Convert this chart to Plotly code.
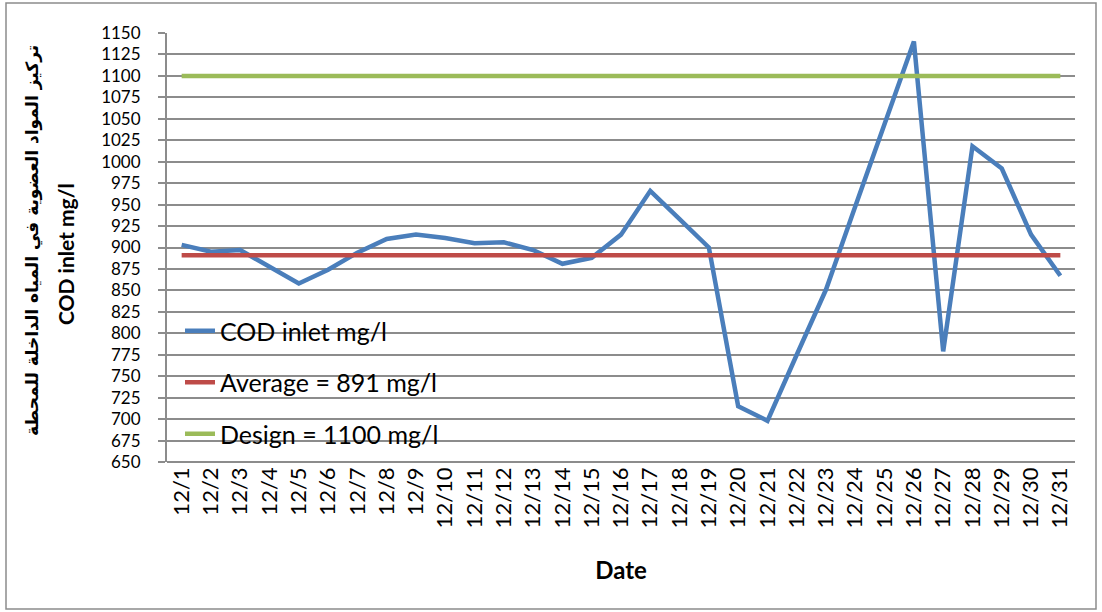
import plotly.graph_objects as go

dates = ["12/%d" % d for d in range(1, 32)]
cod_inlet = [903, 895, 897, 878, 858, 874, 894, 910, 915, 911, 905, 906, 897, 881, 888,
             915, 966, 933, 900, 715, 698, 775, 851, 948, 1044, 1140, 779, 1018, 992, 915, 867]
average_value = 891
design_value = 1100
average = [average_value] * len(dates)
design = [design_value] * len(dates)

y_ticks = list(range(650, 1151, 25))

FONT = "Lato, Open Sans, sans-serif"
GRID = "#8c8c8c"

fig = go.Figure()
fig.add_trace(go.Scatter(x=dates, y=cod_inlet, mode="lines", name="COD inlet mg/l",
                         line=dict(color="#4A7EBB", width=4.5), legendgroup="a"))
fig.add_trace(go.Scatter(x=dates, y=average, mode="lines", name="Average = 891 mg/l",
                         line=dict(color="#BE4B48", width=4.5), legendgroup="b"))
fig.add_trace(go.Scatter(x=dates, y=design, mode="lines", name="Design = 1100 mg/l",
                         line=dict(color="#9BBB59", width=4.5), legendgroup="c"))

L, R, T, B = 167, 27, 33, 150
W, H = 1102, 612
pw, ph = W - L - R, H - T - B

def px(x):
    return (x - L) / pw

def py(y):
    return (H - B - y) / ph

fig.update_layout(
    width=W, height=H,
    margin=dict(l=L, r=R, t=T, b=B),
    paper_bgcolor="white", plot_bgcolor="white",
    font=dict(family=FONT, size=22, color="black"),
    showlegend=True,
    legend=dict(x=px(180), y=py(308), xanchor="left", yanchor="top",
                bgcolor="rgba(0,0,0,0)", font=dict(size=25, family=FONT, color="black"),
                tracegroupgap=16, traceorder="grouped"),
    xaxis=dict(
        type="category", categoryorder="array", categoryarray=dates,
        tickvals=dates, ticktext=dates, tickangle=-90,
        showgrid=False, showline=False, ticks="", zeroline=False,
        tickfont=dict(size=22, family=FONT),
        range=[-0.5, len(dates) - 0.5],
        title=dict(text="<b>Date</b>", font=dict(size=24, family=FONT), standoff=34),
    ),
    yaxis=dict(
        range=[650, 1150], tickvals=y_ticks, ticktext=[str(v) for v in y_ticks],
        showgrid=True, gridcolor=GRID, gridwidth=2,
        showline=True, linecolor=GRID, linewidth=2,
        ticks="outside", ticklen=7, tickcolor=GRID, tickwidth=2,
        ticklabelstandoff=14,
        zeroline=False, tickfont=dict(size=17, family=FONT),
    ),
    annotations=[
        dict(text="<b>تركيز المواد العضوية في المياه الداخلة للمحطة</b>",
             xref="paper", yref="paper", x=px(32), y=py(241),
             xanchor="center", yanchor="middle", textangle=-90, showarrow=False,
             font=dict(size=17, family="DejaVu Sans", color="black")),
        dict(text="<b>COD inlet mg/l</b>",
             xref="paper", yref="paper", x=px(65), y=py(254),
             xanchor="center", yanchor="middle", textangle=-90, showarrow=False,
             font=dict(size=21, family=FONT, color="black")),
    ],
    shapes=[
        dict(type="rect", xref="paper", yref="paper",
             x0=px(6), x1=px(1096), y0=py(609), y1=py(3),
             line=dict(color="#8c8c8c", width=1.5), fillcolor="rgba(0,0,0,0)", layer="below"),
        dict(type="line", xref="paper", yref="paper",
             x0=0, x1=1, y0=0, y1=0, line=dict(color=GRID, width=2)),
    ],
)

fig.write_html("out.html")
